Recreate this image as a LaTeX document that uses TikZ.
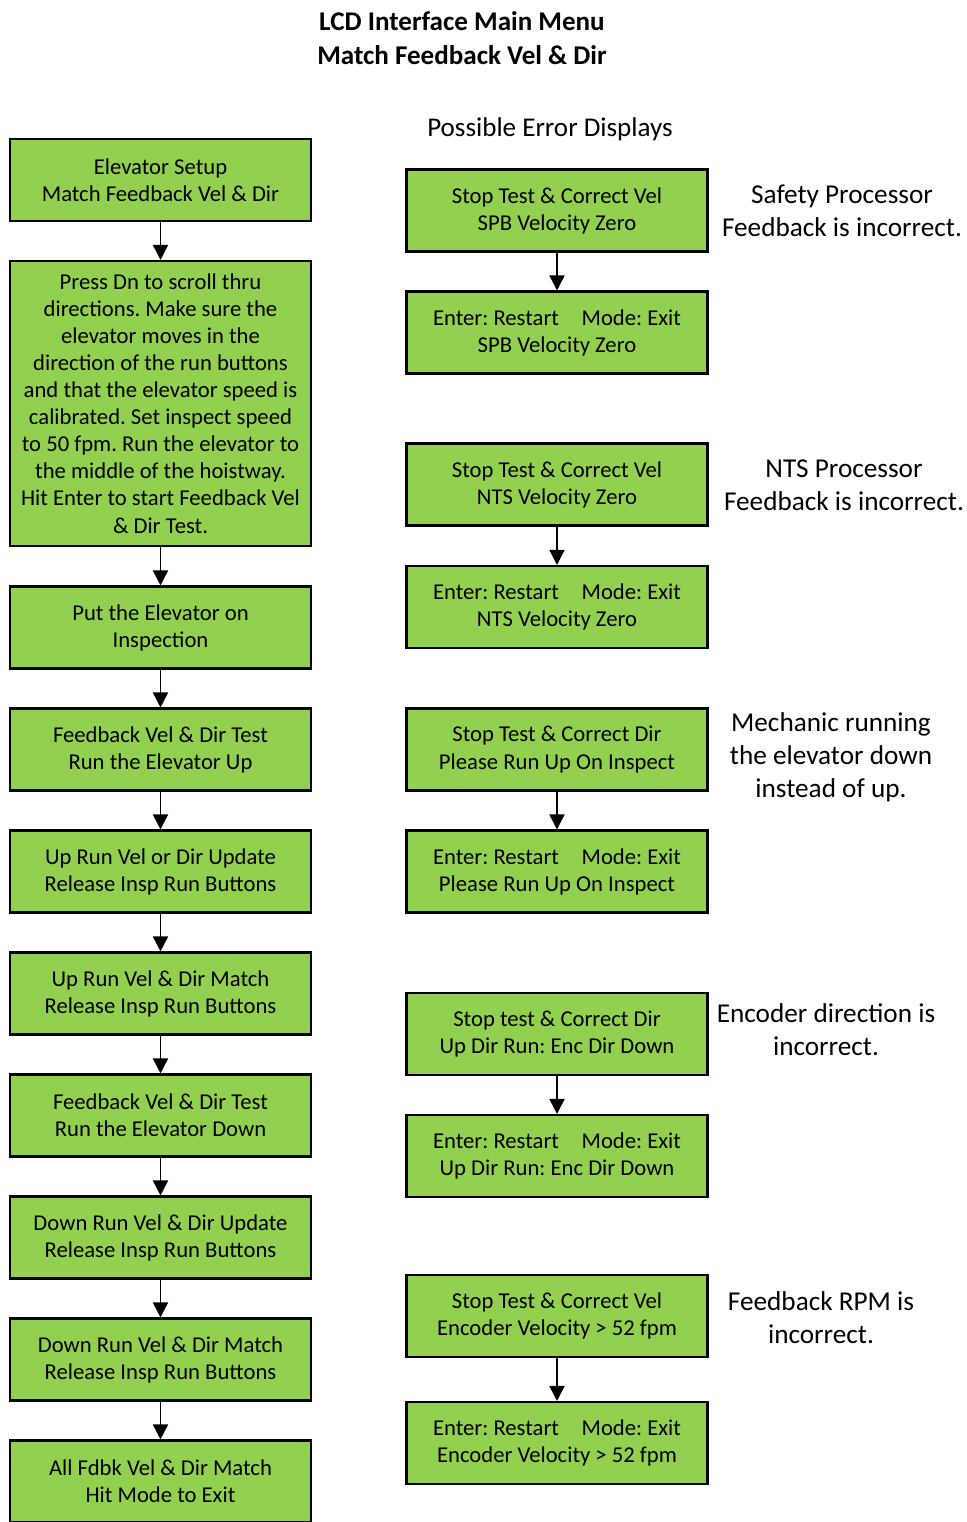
\documentclass[tikz,border=0pt]{standalone}
\usepackage{fontspec}
\setmainfont{Carlito}
\usetikzlibrary{arrows.meta}
\definecolor{lcdgreen}{HTML}{92D050}
\frenchspacing

\begin{document}
\begin{tikzpicture}[
  x=0.02cm, y=-0.02cm,
  box/.style={rectangle, draw, line width=1.2pt, fill=lcdgreen, minimum width=6.02cm,
    minimum height=1.64cm, inner sep=2pt, align=center,
    font=\fontsize{12.9}{15.4}\selectfont},
  note/.style={align=center, font=\fontsize{15.5}{18.7}\selectfont},
  line width=0.9pt,
  >={Triangle[length=3mm, width=3mm]}
]
  \useasboundingbox (0,0) rectangle (967,1522);

  \node[font=\bfseries\fontsize{15.4}{19.3}\selectfont, align=center] (title) at (462,38)
    {LCD Interface Main Menu\\Match Feedback Vel \& Dir};
  \node[font=\fontsize{15.4}{18}\selectfont] (errhead) at (550,129) {Possible Error Displays};

  % main sequence
  \node[box] (1) at (160.5,180) {Elevator Setup\\Match Feedback Vel \& Dir};
  \node[box, minimum height=5.7cm] (2) at (160.5,403.5) {Press Dn to scroll thru\\directions. Make sure the\\elevator moves in the\\direction of the run buttons\\and that the elevator speed is\\calibrated. Set inspect speed\\to 50 fpm. Run the elevator to\\the middle of the hoistway.\\Hit Enter to start Feedback Vel\\\& Dir Test.};
  \node[box] (3) at (160.5,627.5) {Put the Elevator on\\Inspection};
  \node[box] (4) at (160.5,749.5) {Feedback Vel \& Dir Test\\Run the Elevator Up};
  \node[box] (5) at (160.5,871.5) {Up Run Vel or Dir Update\\Release Insp Run Buttons};
  \node[box] (6) at (160.5,993.5) {Up Run Vel \& Dir Match\\Release Insp Run Buttons};
  \node[box] (7) at (160.5,1115.5) {Feedback Vel \& Dir Test\\Run the Elevator Down};
  \node[box] (8) at (160.5,1237.5) {Down Run Vel \& Dir Update\\Release Insp Run Buttons};
  \node[box] (9) at (160.5,1359.5) {Down Run Vel \& Dir Match\\Release Insp Run Buttons};
  \node[box] (10) at (160.5,1481.5) {All Fdbk Vel \& Dir Match\\Hit Mode to Exit};

  \foreach \a/\b in {1/2, 2/3, 3/4, 4/5, 5/6, 6/7, 7/8, 8/9, 9/10}
    \draw[->] (\a) -- (\b);

  % error displays
  \node[box] (spb1) at (557,210.5) {Stop Test \& Correct Vel\\SPB Velocity Zero};
  \node[box] (spb2) at (557,332.5) {Enter: Restart\quad Mode: Exit\\SPB Velocity Zero};
  \node[box] (nts1) at (557,484.5) {Stop Test \& Correct Vel\\NTS Velocity Zero};
  \node[box] (nts2) at (557,607) {Enter: Restart\quad Mode: Exit\\NTS Velocity Zero};
  \node[box] (dir1) at (557,749.5) {Stop Test \& Correct Dir\\Please Run Up On Inspect};
  \node[box] (dir2) at (557,871.5) {Enter: Restart\quad Mode: Exit\\Please Run Up On Inspect};
  \node[box] (enc1) at (557,1034) {Stop test \& Correct Dir\\Up Dir Run: Enc Dir Down};
  \node[box] (enc2) at (557,1156) {Enter: Restart\quad Mode: Exit\\Up Dir Run: Enc Dir Down};
  \node[box] (rpm1) at (557,1316) {Stop Test \& Correct Vel\\Encoder Velocity > 52 fpm};
  \node[box] (rpm2) at (557,1443) {Enter: Restart\quad Mode: Exit\\Encoder Velocity > 52 fpm};

  \foreach \a in {spb, nts, dir, enc, rpm}
    \draw[->] (\a1) -- (\a2);

  % notes
  \node[note] (spbnote) at (842,211) {Safety Processor\\Feedback is incorrect.};
  \node[note] (ntsnote) at (844,485.5) {NTS Processor\\Feedback is incorrect.};
  \node[note] (dirnote) at (831,757) {Mechanic running\\the elevator down\\instead of up.};
  \node[note] (encnote) at (826,1029.5) {Encoder direction is\\incorrect.};
  \node[note] (rpmnote) at (821,1317.5) {Feedback RPM is\\incorrect.};
\end{tikzpicture}
\end{document}
